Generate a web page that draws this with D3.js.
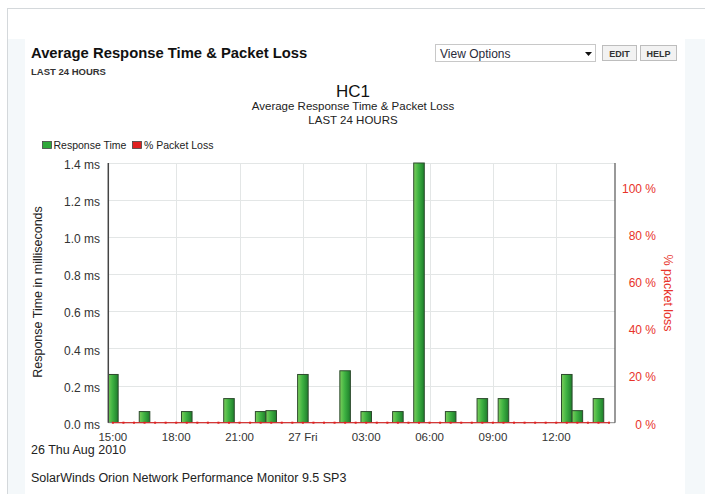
<!DOCTYPE html>
<html>
<head>
<meta charset="utf-8">
<script src="https://cdn.jsdelivr.net/npm/d3@7"></script>
<style>
  html, body { margin: 0; padding: 0; background: #ffffff; }
  svg { display: block; font-family: "Liberation Sans", Arial, sans-serif; }
</style>
</head>
<body>
<svg id="chart" width="705" height="494"></svg>
<script>
// ---------------- DATA ----------------
const barTimes = [
  "2010-08-26 15:00", "2010-08-26 16:30", "2010-08-26 18:30", "2010-08-26 20:30",
  "2010-08-26 22:00", "2010-08-26 22:30", "2010-08-27 00:00", "2010-08-27 02:00",
  "2010-08-27 03:00", "2010-08-27 04:30", "2010-08-27 05:30", "2010-08-27 07:00",
  "2010-08-27 08:30", "2010-08-27 09:30", "2010-08-27 12:30", "2010-08-27 13:00",
  "2010-08-27 14:00"
];
const responseTimeMs = [
  0.26, 0.06, 0.06, 0.13,
  0.06, 0.065, 0.26, 0.28,
  0.06, 0.06, 1.40, 0.06,
  0.13, 0.13, 0.26, 0.065,
  0.13
];
const lossTimes = [
  "26 15:00","26 15:30","26 16:00","26 16:30","26 17:00","26 17:30","26 18:00","26 18:30",
  "26 19:00","26 19:30","26 20:00","26 20:30","26 21:00","26 21:30","26 22:00","26 22:30",
  "26 23:00","26 23:30","27 00:00","27 00:30","27 01:00","27 01:30","27 02:00","27 02:30",
  "27 03:00","27 03:30","27 04:00","27 04:30","27 05:00","27 05:30","27 06:00","27 06:30",
  "27 07:00","27 07:30","27 08:00","27 08:30","27 09:00","27 09:30","27 10:00","27 10:30",
  "27 11:00","27 11:30","27 12:00","27 12:30","27 13:00","27 13:30","27 14:00","27 14:30"
];
const packetLossPct = [
  0,0,0,0,0,0,0,0, 0,0,0,0,0,0,0,0, 0,0,0,0,0,0,0,0,
  0,0,0,0,0,0,0,0, 0,0,0,0,0,0,0,0, 0,0,0,0,0,0,0,0
];
const timeDomain = ["2010-08-26 14:47", "2010-08-27 14:47"];
const xTickTimes = ["2010-08-26 15:00","2010-08-26 18:00","2010-08-26 21:00","2010-08-27 00:00",
                    "2010-08-27 03:00","2010-08-27 06:00","2010-08-27 09:00","2010-08-27 12:00"];
const xTickLabels = ["15:00","18:00","21:00","27 Fri","03:00","06:00","09:00","12:00"];
const leftTicks = [0, 0.2, 0.4, 0.6, 0.8, 1.0, 1.2, 1.4];
const rightTicks = [0, 20, 40, 60, 80, 100];
const leftMax = 1.4;
const rightMax = 110;

// ---------------- LAYOUT ----------------
const svg = d3.select("#chart");
const parse = d3.timeParse("%Y-%m-%d %H:%M");
const parseLoss = s => parse("2010-08-" + s);

const plot = { left: 108.3, right: 615, top: 163, bottom: 422.7 };

const x = d3.scaleTime().domain(timeDomain.map(parse)).range([plot.left, plot.right]);
const yL = d3.scaleLinear().domain([0, leftMax]).range([plot.bottom, plot.top]);
const yR = d3.scaleLinear().domain([0, rightMax]).range([plot.bottom, plot.top]);

// page frame
svg.append("rect").attr("x", 0).attr("y", 0).attr("width", 705).attr("height", 494).attr("fill", "#ffffff");
svg.append("rect").attr("x", 7.5).attr("y", 8.5).attr("width", 720).attr("height", 520)
   .attr("fill", "#f4f8fa").attr("stroke", "#d4d8db");
svg.append("rect").attr("x", 8).attr("y", 9).attr("width", 700).attr("height", 30).attr("fill", "#ffffff");
svg.append("rect").attr("x", 25).attr("y", 9).attr("width", 660).attr("height", 490).attr("fill", "#ffffff");

// header
svg.append("text").attr("x", 31).attr("y", 58).attr("font-size", 14.8).attr("font-weight", "bold")
   .attr("fill", "#111").text("Average Response Time & Packet Loss");
svg.append("text").attr("x", 31).attr("y", 74.5).attr("font-size", 9.5).attr("font-weight", "bold")
   .attr("fill", "#333").text("LAST 24 HOURS");

// view options dropdown + buttons
svg.append("rect").attr("x", 435.5).attr("y", 44.5).attr("width", 160).attr("height", 17)
   .attr("fill", "#fff").attr("stroke", "#c8c8c8");
svg.append("text").attr("x", 440).attr("y", 57.5).attr("font-size", 12).attr("fill", "#2a2a3a")
   .text("View Options");
svg.append("path").attr("d", "M585,52 L592,52 L588.5,56 Z").attr("fill", "#111");
[["EDIT", 602, 34], ["HELP", 640, 36]].forEach(([t, bx, bw]) => {
  svg.append("rect").attr("x", bx + 0.5).attr("y", 45.5).attr("width", bw).attr("height", 15)
     .attr("fill", "#f2f2f2").attr("stroke", "#bdbdbd");
  svg.append("text").attr("x", bx + bw / 2 + 0.5).attr("y", 56.5).attr("text-anchor", "middle")
     .attr("font-size", 9).attr("font-weight", "bold").attr("fill", "#333").text(t);
});

// chart titles
svg.append("text").attr("x", 353).attr("y", 97).attr("text-anchor", "middle").attr("font-size", 17)
   .attr("fill", "#111").text("HC1");
svg.append("text").attr("x", 353).attr("y", 110).attr("text-anchor", "middle").attr("font-size", 11.5)
   .attr("fill", "#222").text("Average Response Time & Packet Loss");
svg.append("text").attr("x", 353).attr("y", 123.5).attr("text-anchor", "middle").attr("font-size", 11.5)
   .attr("fill", "#222").text("LAST 24 HOURS");

// legend
const legend = [["Response Time", "#2fa83a", 42.5, 53.5], ["% Packet Loss", "#e02020", 132.5, 144]];
legend.forEach(([label, col, lx, tx]) => {
  svg.append("rect").attr("x", lx).attr("y", 141.5).attr("width", 9).attr("height", 7)
     .attr("fill", col).attr("stroke", "#444").attr("stroke-width", 0.8);
  svg.append("text").attr("x", tx).attr("y", 149).attr("font-size", 10.5).attr("fill", "#222")
     .text(label);
});

// grid
const grid = svg.append("g");
grid.selectAll("line.h").data(leftTicks.slice(1)).join("line")
  .attr("x1", plot.left).attr("x2", plot.right)
  .attr("y1", d => Math.round(yL(d)) + 0.5).attr("y2", d => Math.round(yL(d)) + 0.5)
  .attr("stroke", "#e3e6e6");
grid.selectAll("line.v").data(xTickTimes.slice(1).map(parse)).join("line")
  .attr("x1", d => Math.round(x(d)) + 0.5).attr("x2", d => Math.round(x(d)) + 0.5)
  .attr("y1", plot.top).attr("y2", plot.bottom)
  .attr("stroke", "#e3e6e6");

// bars
const defs = svg.append("defs");
const grad = defs.append("linearGradient").attr("id", "barGrad").attr("x1", "0").attr("x2", "1").attr("y1", "0").attr("y2", "0");
grad.append("stop").attr("offset", "0%").attr("stop-color", "#7ccf5c");
grad.append("stop").attr("offset", "45%").attr("stop-color", "#3fb342");
grad.append("stop").attr("offset", "100%").attr("stop-color", "#1d7d2b");
defs.append("clipPath").attr("id", "plotClip").append("rect")
  .attr("x", plot.left).attr("y", plot.top - 2).attr("width", plot.right - plot.left).attr("height", plot.bottom - plot.top + 2);

const halfSlot = 15 * 60 * 1000;
const bars = barTimes.map((t, i) => ({ t: parse(t), v: responseTimeMs[i] }));
svg.append("g").attr("clip-path", "url(#plotClip)")
  .selectAll("rect").data(bars).join("rect")
  .attr("x", d => x(new Date(d.t.getTime() - halfSlot)))
  .attr("width", d => x(new Date(d.t.getTime() + halfSlot)) - x(new Date(d.t.getTime() - halfSlot)))
  .attr("y", d => yL(d.v))
  .attr("height", d => yL(0) - yL(d.v))
  .attr("fill", "url(#barGrad)")
  .attr("stroke", "#2d4a2d").attr("stroke-width", 1);

// baseline + packet loss line
svg.append("line").attr("x1", plot.left).attr("x2", plot.right)
  .attr("y1", plot.bottom).attr("y2", plot.bottom).attr("stroke", "#888").attr("stroke-width", 1);
const loss = lossTimes.map((t, i) => ({ t: parseLoss(t), v: packetLossPct[i] }));
svg.append("path").datum(loss)
  .attr("d", d3.line().x(d => x(d.t)).y(d => yR(d.v)))
  .attr("fill", "none").attr("stroke", "#e02020").attr("stroke-width", 1);
svg.append("g").selectAll("rect").data(loss).join("rect")
  .attr("x", d => x(d.t) - 1).attr("y", d => yR(d.v) - 1).attr("width", 2).attr("height", 2)
  .attr("fill", "#e02020");

// axes lines
svg.append("line").attr("x1", plot.left).attr("x2", plot.left).attr("y1", plot.top).attr("y2", plot.bottom)
  .attr("stroke", "#444").attr("stroke-width", 1.5);
svg.append("line").attr("x1", plot.right).attr("x2", plot.right).attr("y1", plot.top).attr("y2", plot.bottom)
  .attr("stroke", "#555").attr("stroke-width", 1.2);

// left axis labels
svg.append("g").selectAll("text").data(leftTicks).join("text")
  .attr("x", 100).attr("y", d => yL(d)).attr("dy", "0.5em").attr("text-anchor", "end")
  .attr("font-size", 12).attr("fill", "#333").text(d => d.toFixed(1) + " ms");
// right axis labels
svg.append("g").selectAll("text").data(rightTicks).join("text")
  .attr("x", 656).attr("y", d => yR(d)).attr("dy", "0.5em").attr("text-anchor", "end")
  .attr("font-size", 12).attr("fill", "#e8332a").text(d => d + " %");
// x labels
svg.append("g").selectAll("text").data(xTickTimes).join("text")
  .attr("x", d => x(parse(d))).attr("y", 441).attr("text-anchor", "middle")
  .attr("font-size", 11.5).attr("fill", "#333").text((d, i) => xTickLabels[i]);
svg.append("text").attr("x", 31).attr("y", 453.5).attr("font-size", 12.5).attr("fill", "#222")
  .text("26 Thu Aug 2010");

// axis titles
svg.append("text").attr("transform", "translate(42,292) rotate(-90)").attr("text-anchor", "middle")
  .attr("font-size", 12.5).attr("fill", "#222").text("Response Time in milliseconds");
svg.append("text").attr("transform", "translate(664,293) rotate(90)").attr("text-anchor", "middle")
  .attr("font-size", 12.5).attr("fill", "#e8332a").text("% packet loss");

// footer
svg.append("text").attr("x", 31).attr("y", 482).attr("font-size", 12.5).attr("fill", "#222")
  .text("SolarWinds Orion Network Performance Monitor 9.5 SP3");
</script>
</body>
</html>
